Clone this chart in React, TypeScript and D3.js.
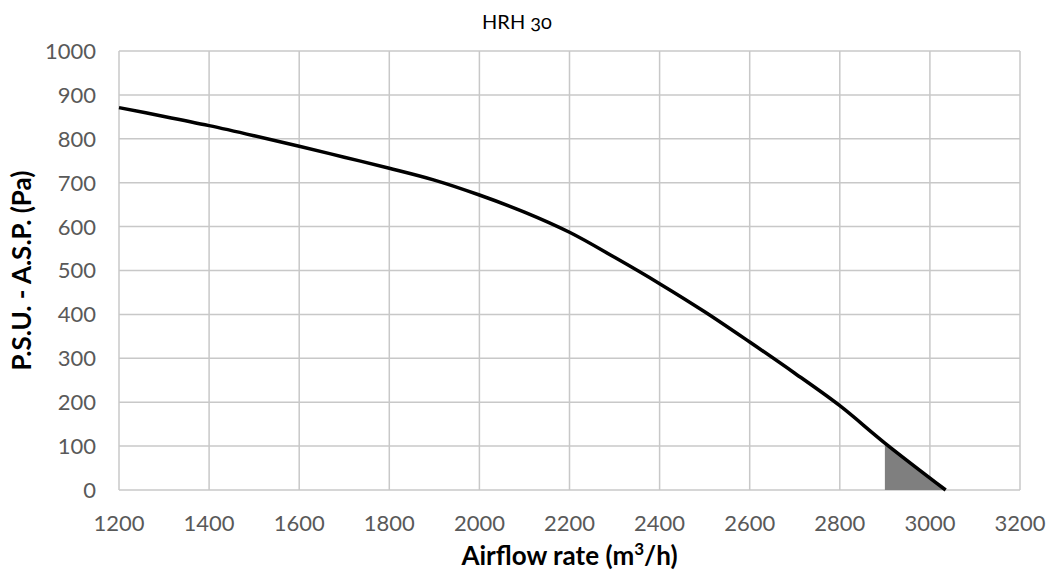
import React, { useEffect, useRef } from "react";
import * as d3 from "d3";

// fan curve
const airflow = [1200, 1300, 1400, 1500, 1600, 1700, 1800, 1900, 2000, 2100, 2200, 2300, 2400, 2500, 2600, 2700, 2800, 2900, 3035];
const pressure = [871, 851, 830, 807, 783, 758, 733, 706, 672, 633, 587, 530, 470, 406, 337, 266, 192, 107, 0];
const shadeFrom = 2900;

const xTicks = [1200, 1400, 1600, 1800, 2000, 2200, 2400, 2600, 2800, 3000, 3200];
const yTicks = [0, 100, 200, 300, 400, 500, 600, 700, 800, 900, 1000];

const App = () => {
  const svgRef = useRef<SVGSVGElement>(null);

  useEffect(() => {
    const width = 1053;
    const height = 583;
    const m = { left: 119, right: 33, top: 51, bottom: 93 };

    const svg = d3.select(svgRef.current);
    svg.selectAll("*").remove();

    const x = d3.scaleLinear().domain([1200, 3200]).range([m.left, width - m.right]);
    const y = d3.scaleLinear().domain([0, 1000]).range([height - m.bottom, m.top]);

    const font = "Lato, 'Open Sans', sans-serif";

    // grid
    const grid = svg.append("g").attr("stroke", "#c8c8c8").attr("stroke-width", 1.5);
    grid
      .selectAll("line.h")
      .data(yTicks)
      .enter()
      .append("line")
      .attr("x1", x(1200))
      .attr("x2", x(3200))
      .attr("y1", (d) => y(d))
      .attr("y2", (d) => y(d));
    grid
      .selectAll("line.v")
      .data(xTicks)
      .enter()
      .append("line")
      .attr("y1", y(0))
      .attr("y2", y(1000))
      .attr("x1", (d) => x(d))
      .attr("x2", (d) => x(d));

    const pts: [number, number][] = airflow.map((a, i) => [a, pressure[i]]);

    // shaded tail
    const tail = pts.filter((p) => p[0] >= shadeFrom);
    const area = d3
      .area<[number, number]>()
      .x((d) => x(d[0]))
      .y0(y(0))
      .y1((d) => y(d[1]));
    svg.append("path").attr("d", area(tail)).attr("fill", "#7f7f7f");

    const line = d3
      .line<[number, number]>()
      .x((d) => x(d[0]))
      .y((d) => y(d[1]))
      .curve(d3.curveCatmullRom.alpha(0.5));
    svg
      .append("path")
      .attr("d", line(pts))
      .attr("fill", "none")
      .attr("stroke", "#000")
      .attr("stroke-width", 3.5);

    // tick labels
    svg
      .append("g")
      .selectAll("text")
      .data(yTicks)
      .enter()
      .append("text")
      .attr("x", 96)
      .attr("y", (d) => y(d))
      .attr("dy", "0.36em")
      .attr("text-anchor", "end")
      .attr("fill", "#595959")
      .style("font", `22px ${font}`)
      .text((d) => d);

    svg
      .append("g")
      .selectAll("text")
      .data(xTicks)
      .enter()
      .append("text")
      .attr("x", (d) => x(d))
      .attr("y", 531)
      .attr("text-anchor", "middle")
      .attr("fill", "#595959")
      .style("font", `22px ${font}`)
      .text((d) => d);

    // titles
    svg
      .append("text")
      .attr("x", 517)
      .attr("y", 29)
      .attr("text-anchor", "middle")
      .attr("fill", "#000")
      .style("font", `20px ${font}`)
      .style("font-variant-numeric", "oldstyle-nums")
      .text("HRH 30");

    const xt = svg
      .append("text")
      .attr("x", (m.left + width - m.right) / 2)
      .attr("y", 565)
      .attr("text-anchor", "middle")
      .attr("fill", "#000")
      .style("font", `bold 26px ${font}`);
    xt.append("tspan").text("Airflow rate (m");
    xt.append("tspan").attr("dy", -10).style("font-size", "17px").text("3");
    xt.append("tspan").attr("dy", 10).text("/h)");

    svg
      .append("text")
      .attr("transform", `translate(31, ${(y(0) + y(1000)) / 2}) rotate(-90)`)
      .attr("text-anchor", "middle")
      .attr("fill", "#000")
      .style("font", `bold 26px ${font}`)
      .text("P.S.U. - A.S.P. (Pa)");
  }, []);

  return (
    <svg
      ref={svgRef}
      width={1053}
      height={583}
      style={{ position: "absolute", left: 0, top: 0, background: "#fff" }}
    ></svg>
  );
};

export default App;
